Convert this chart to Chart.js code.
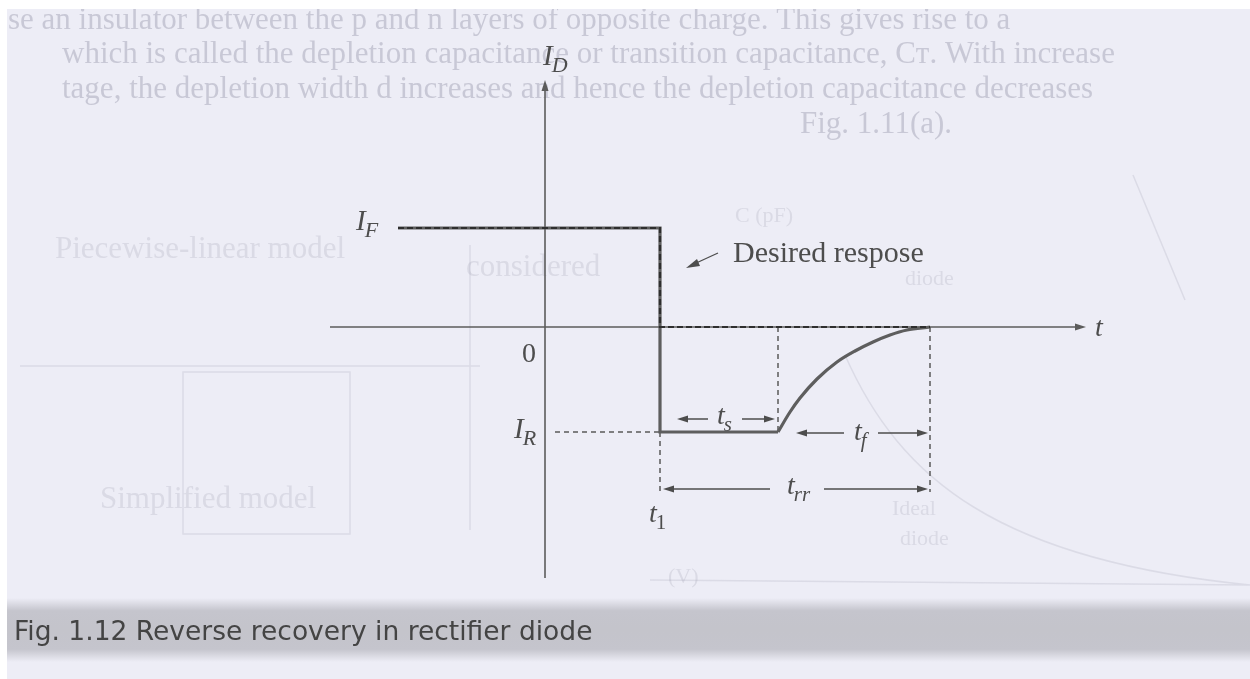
<!DOCTYPE html>
<html>
<head>
<meta charset="utf-8">
<title>Reverse recovery in rectifier diode</title>
<script src="https://cdn.jsdelivr.net/npm/chart.js@4.4.0/dist/chart.umd.min.js"></script>
<style>
  html, body { margin: 0; padding: 0; background: #fff; }
  #wrap { width: 1250px; height: 679px; }
</style>
</head>
<body>
<div id="wrap"><canvas id="recoveryChart"></canvas></div>
<script>
// current levels, in units of the I_D axis
const forwardCurrent = 0.99;   // I_F
const reverseCurrent = -1.05;  // I_R

// instants on the t axis
const tStart = -2.94;
const t1 = 2.3;             // input reversed
const tStorageEnd = 4.66;   // t1 + ts
const tRecoveryEnd = 7.7;   // t1 + trr

// reverse current dying away during the fall time tf
const recoveryT = [4.66, 4.9, 5.1, 5.44, 5.84, 6.2, 6.56, 6.9, 7.24, 7.7];
const recoveryI = [-1.05, -0.85, -0.71, -0.52, -0.35, -0.24, -0.15, -0.08, -0.03, 0];

const INK = '#4d4d4d';
const pts = (xs, ys) => xs.map((x, i) => ({ x: x, y: ys[i] }));

const dashed = (data) => ({
  data: data, showLine: true, pointRadius: 0,
  borderColor: '#5a5a5a', borderWidth: 1.5, borderDash: [5, 4], order: 2
});

const actual = pts([tStart, t1, t1, tStorageEnd],
                   [forwardCurrent, forwardCurrent, reverseCurrent, reverseCurrent]);
const desired = pts([tStart, t1, t1, tRecoveryEnd],
                    [forwardCurrent, forwardCurrent, 0, 0]);

function px(chart, v) { return chart.scales.x.getPixelForValue(v); }
function py(chart, v) { return chart.scales.y.getPixelForValue(v); }

function arrowHead(ctx, x, y, dir) {
  // dir: 1 right, -1 left, 'up'
  ctx.beginPath();
  if (dir === 'up') {
    ctx.moveTo(x, y); ctx.lineTo(x - 3.5, y + 11); ctx.lineTo(x + 3.5, y + 11);
  } else {
    ctx.moveTo(x, y); ctx.lineTo(x - dir * 11, y - 3.5); ctx.lineTo(x - dir * 11, y + 3.5);
  }
  ctx.closePath();
  ctx.fill();
}

function dimArrow(ctx, xa, xb, y, gapA, gapB) {
  // two arrows pointing outwards, leaving a gap for the label
  ctx.beginPath();
  ctx.moveTo(gapA, y); ctx.lineTo(xa + 4, y);
  ctx.moveTo(gapB, y); ctx.lineTo(xb - 4, y);
  ctx.stroke();
  arrowHead(ctx, xa, y, -1);
  arrowHead(ctx, xb, y, 1);
}

function symbol(ctx, main, sub, x, y, size, upright) {
  ctx.font = 'italic ' + size + 'px "Liberation Serif"';
  ctx.fillText(main, x, y);
  const w = ctx.measureText(main).width;
  ctx.font = (upright ? '' : 'italic ') + Math.round(size * 0.75) + 'px "Liberation Serif"';
  ctx.fillText(sub, x + w - 1, y + 7);
}

const pagePlugin = {
  id: 'page',
  beforeDraw(chart) {
    const ctx = chart.ctx, W = chart.width, H = chart.height;
    ctx.save();
    ctx.fillStyle = '#ededf6';
    ctx.fillRect(0, 0, W, H);

    // show-through from the reverse side of the sheet
    ctx.fillStyle = 'rgba(150,150,170,0.42)';
    ctx.font = '31px "Liberation Serif"';
    ctx.textBaseline = 'alphabetic';
    ctx.fillText('se an insulator between the p and n layers of opposite charge. This gives rise to a', 8, 29);
    ctx.fillText('which is called the depletion capacitance or transition capacitance, C\u1D1B. With increase', 62, 63);
    ctx.fillText('tage, the depletion width d increases and hence the depletion capacitance decreases', 62, 98);
    ctx.fillText('Fig. 1.11(a).', 800, 133);
    ctx.fillStyle = 'rgba(150,150,170,0.22)';
    ctx.fillText('Piecewise-linear model', 55, 258);
    ctx.fillText('considered', 466, 276);
    ctx.fillText('Simplified model', 100, 508);
    ctx.font = '22px "Liberation Serif"';
    ctx.fillText('C (pF)', 735, 222);
    ctx.fillText('diode', 905, 285);
    ctx.fillText('Ideal', 892, 515);
    ctx.fillText('diode', 900, 545);
    ctx.fillText('(V)', 668, 583);
    ctx.strokeStyle = 'rgba(150,150,170,0.2)';
    ctx.lineWidth = 1.5;
    ctx.strokeRect(183, 372, 167, 162);
    ctx.beginPath();
    ctx.moveTo(20, 366); ctx.lineTo(480, 366);
    ctx.moveTo(470, 245); ctx.lineTo(470, 530);
    ctx.moveTo(1133, 175); ctx.lineTo(1185, 300);
    ctx.moveTo(845, 355);
    ctx.bezierCurveTo(900, 480, 1000, 560, 1250, 585);
    ctx.moveTo(650, 580); ctx.lineTo(1250, 585);
    ctx.stroke();

    // caption band
    const g = ctx.createLinearGradient(0, 598, 0, 662);
    g.addColorStop(0, 'rgba(190,190,198,0)');
    g.addColorStop(0.2, 'rgba(190,190,198,0.85)');
    g.addColorStop(0.5, 'rgba(196,196,203,1)');
    g.addColorStop(0.8, 'rgba(190,190,198,0.85)');
    g.addColorStop(1, 'rgba(190,190,198,0)');
    ctx.fillStyle = g;
    ctx.fillRect(7, 598, W, 64);

    // scanner margins
    ctx.fillStyle = '#ffffff';
    ctx.fillRect(0, 0, W, 9);
    ctx.fillRect(0, 0, 7, H);
    ctx.restore();
  },
  beforeDatasetsDraw(chart) {
    const ctx = chart.ctx;
    const x0 = px(chart, 0), y0 = py(chart, 0);
    ctx.save();
    ctx.strokeStyle = '#5c5c5c';
    ctx.fillStyle = '#5c5c5c';
    ctx.lineWidth = 1.6;
    ctx.beginPath();
    ctx.moveTo(x0, 578); ctx.lineTo(x0, 88);
    ctx.moveTo(330, y0); ctx.lineTo(1076, y0);
    ctx.stroke();
    arrowHead(ctx, x0, 80, 'up');
    arrowHead(ctx, 1086, y0, 1);
    ctx.restore();
  },
  afterDatasetsDraw(chart) {
    const ctx = chart.ctx;
    const x0 = px(chart, 0), y0 = py(chart, 0);
    const xT1 = px(chart, t1), xS = px(chart, tStorageEnd), xR = px(chart, tRecoveryEnd);
    const yF = py(chart, forwardCurrent), yR = py(chart, reverseCurrent);
    ctx.save();
    ctx.fillStyle = INK;
    ctx.strokeStyle = INK;
    ctx.lineWidth = 1.3;
    ctx.textBaseline = 'alphabetic';

    symbol(ctx, 'I', 'D', x0 - 2, 65, 29);
    symbol(ctx, 'I', 'F', 356, yF + 2, 29);
    symbol(ctx, 'I', 'R', 514, yR + 6, 29);
    ctx.font = '28px "Liberation Serif"';
    ctx.fillText('0', 522, y0 + 35);
    ctx.font = 'italic 28px "Liberation Serif"';
    ctx.fillText('t', 1095, y0 + 9);
    symbol(ctx, 't', '1', xT1 - 11, 522, 28, true);

    // ts, tf and trr dimension arrows
    dimArrow(ctx, xT1 + 17, xS - 3, yR - 13, xT1 + 48, xS - 36);
    symbol(ctx, 't', 's', xS - 61, yR - 8, 28);
    dimArrow(ctx, xS + 18, xR - 2, yR + 1, xS + 66, xR - 52);
    symbol(ctx, 't', 'f', xS + 76, yR + 8, 28);
    dimArrow(ctx, xT1 + 3, xR - 2, 489, xT1 + 110, xR - 106);
    symbol(ctx, 't', 'rr', xS + 9, 494, 28);

    // pointer to the ideal waveform
    ctx.font = '30px "Liberation Serif"';
    ctx.fillText('Desired respose', 733, 262);
    ctx.beginPath();
    ctx.moveTo(718, 253); ctx.lineTo(694, 264);
    ctx.stroke();
    ctx.beginPath();
    ctx.moveTo(686, 268); ctx.lineTo(697, 259); ctx.lineTo(700, 266);
    ctx.closePath();
    ctx.fill();

    ctx.fillStyle = '#444';
    ctx.font = '26.5px "DejaVu Sans"';
    ctx.fillText('Fig. 1.12 Reverse recovery in rectifier diode', 14, 640);
    ctx.restore();
  }
};

new Chart(document.getElementById('recoveryChart'), {
  type: 'scatter',
  data: {
    datasets: [
      {
        label: 'Desired response',
        data: desired, showLine: true, pointRadius: 0,
        borderColor: '#2e2e2e', borderWidth: 2.2, borderDash: [6, 3], order: 0
      },
      {
        label: 'Actual response',
        data: actual, showLine: true, pointRadius: 0,
        borderColor: '#5e5e5e', borderWidth: 3.2, order: 1
      },
      {
        label: 'Recovery',
        data: pts(recoveryT, recoveryI), showLine: true, pointRadius: 0,
        borderColor: '#5e5e5e', borderWidth: 3.2, cubicInterpolationMode: 'monotone', order: 1
      },
      dashed(pts([0.2, t1], [reverseCurrent, reverseCurrent])),
      dashed(pts([t1, t1], [reverseCurrent, -1.65])),
      dashed(pts([tStorageEnd, tStorageEnd], [0, reverseCurrent])),
      dashed(pts([tRecoveryEnd, tRecoveryEnd], [0, -1.65]))
    ]
  },
  options: {
    responsive: true,
    maintainAspectRatio: false,
    animation: false,
    layout: { padding: 0 },
    plugins: { legend: { display: false }, tooltip: { enabled: false } },
    scales: {
      x: { type: 'linear', min: -10.9, max: 14.1, display: false },
      y: { type: 'linear', min: -3.52, max: 3.27, display: false }
    }
  },
  plugins: [pagePlugin]
});
</script>
</body>
</html>
